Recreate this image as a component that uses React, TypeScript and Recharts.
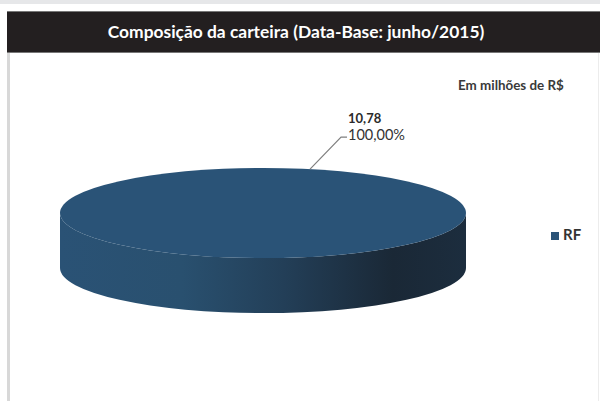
import { PieChart, Pie, Legend } from "recharts"

const categories = ["RF"]
const amounts = [10.78]
const shares = ["100,00%"]
const amountLabels = ["10,78"]

const pieData = categories.map((name, i) => ({ name, value: amounts[i], share: shares[i], amountLabel: amountLabels[i] }))

const SQUASH = 0.222
const DEPTH = 55

// recharts has no 3d pie, so the sector is flattened into an ellipse and given a wall
const Disc = ({ cx, cy, outerRadius }: any) => {
  const rx = outerRadius
  const ry = outerRadius * SQUASH
  const wall = `M${cx - rx},${cy} A${rx},${ry} 0 0 0 ${cx + rx},${cy} L${cx + rx},${cy + DEPTH} A${rx},${ry} 0 0 1 ${cx - rx},${cy + DEPTH} Z`
  return (
    <g>
      <defs>
        <linearGradient id="wallFill" x1="0" y1="0" x2="1" y2="0">
          <stop offset="0%" stopColor="#2a5275" />
          <stop offset="30%" stopColor="#29506f" />
          <stop offset="55%" stopColor="#233f58" />
          <stop offset="82%" stopColor="#1a2836" />
          <stop offset="100%" stopColor="#1c2d3e" />
        </linearGradient>
      </defs>
      <path d={wall} fill="url(#wallFill)" />
      <ellipse cx={cx} cy={cy} rx={rx} ry={ry} fill="#2a5377" />
    </g>
  )
}

const SliceLabel = ({ cx, cy, midAngle, outerRadius, payload }: any) => {
  const a = (midAngle * Math.PI) / 180
  const x = cx + outerRadius * Math.cos(a)
  const y = cy - outerRadius * SQUASH * Math.sin(a)
  return (
    <g>
      <polyline points={`${x},${y} ${x + 31},${y - 32} ${x + 37},${y - 32}`} fill="none" stroke="#7f7f7f" strokeWidth={1.2} />
      <text x={x + 38} y={y - 46} fontFamily="Lato" fontWeight={700} fontSize={13} fill="#2b2b2b">{payload.amountLabel}</text>
      <text x={x + 38} y={y - 29} fontFamily="Lato" fontSize={14.5} fill="#333">{payload.share}</text>
    </g>
  )
}

export default function App() {
  return (
    <div style={{ position: "fixed", left: 0, top: 0, width: 600, height: 401, background: "#fff", overflow: "hidden", fontFamily: "Lato" }}>
      <div style={{ position: "absolute", left: 0, top: 0, width: 600, height: 4, background: "#e6e7e9" }} />
      <div style={{ position: "absolute", left: 7, top: 53, width: 3, height: 348, background: "#d8d8d8" }} />
      <div style={{ position: "absolute", left: 598, top: 53, width: 1, height: 348, background: "#ececec" }} />
      <div style={{ position: "absolute", left: 7, top: 11, width: 593, height: 42, background: "#231f20", borderTop: "1px solid #777", borderBottom: "1px solid #777", color: "#fff", fontWeight: 700, fontSize: 17.4, lineHeight: "40px", textAlign: "center", paddingRight: 15, boxSizing: "border-box" }}>
        Composição da carteira (Data-Base: junho/2015)
      </div>
      <div style={{ position: "absolute", left: 458, top: 77, fontSize: 13.4, fontWeight: 700, color: "#3a3a3a" }}>Em milhões de R$</div>
      <PieChart width={600} height={401} margin={{ top: 0, right: 0, bottom: 0, left: 0 }} style={{ position: "absolute", left: 0, top: 0 }}>
        <Pie
          data={pieData}
          dataKey="value"
          nameKey="name"
          cx={263}
          cy={213}
          outerRadius={203}
          startAngle={-103.4}
          endAngle={256.6}
          fill="#2a5377"
          stroke="none"
          shape={Disc}
          label={SliceLabel}
          labelLine={false}
          isAnimationActive={false}
        />
        <Legend
          layout="vertical"
          iconType="square"
          iconSize={8}
          wrapperStyle={{ position: "absolute", left: 551, top: 225, width: 45, fontSize: 15, fontWeight: 700 }}
          formatter={(value: string) => <span style={{ color: "#333" }}>{value}</span>}
        />
      </PieChart>
    </div>
  )
}
